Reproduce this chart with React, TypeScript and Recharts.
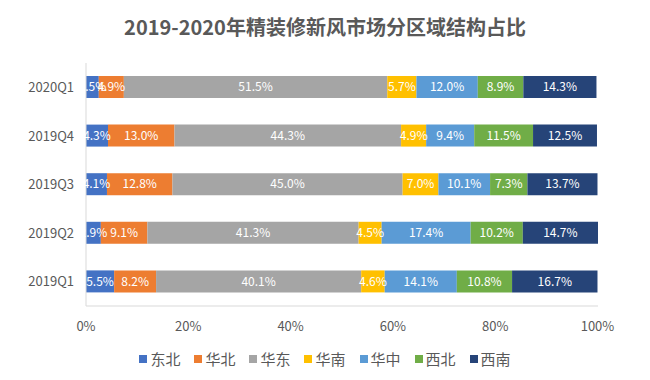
import React from 'react';
import { BarChart, Bar, XAxis, YAxis, Legend, LabelList } from 'recharts';

const quarters = ['2020Q1', '2019Q4', '2019Q3', '2019Q2', '2019Q1'];
const regions = ['东北', '华北', '华东', '华南', '华中', '西北', '西南'];
const colors = ['#4472C4', '#ED7D31', '#A5A5A5', '#FFC000', '#5B9BD5', '#70AD47', '#264478'];
const dongbei = [2.5, 4.3, 4.1, 2.9, 5.5];
const huabei = [4.9, 13.0, 12.8, 9.1, 8.2];
const huadong = [51.5, 44.3, 45.0, 41.3, 40.1];
const huanan = [5.7, 4.9, 7.0, 4.5, 4.6];
const huazhong = [12.0, 9.4, 10.1, 17.4, 14.1];
const xibei = [8.9, 11.5, 7.3, 10.2, 10.8];
const xinan = [14.3, 12.5, 13.7, 14.7, 16.7];
const xTicks = [0, 20, 40, 60, 80, 100];

const seriesValues = [dongbei, huabei, huadong, huanan, huazhong, xibei, xinan];

const data = quarters.map((q, i) => {
  const row: Record<string, string | number> = { q };
  regions.forEach((r, j) => {
    row[r] = seriesValues[j][i];
  });
  return row;
});

const font = '"Noto Sans CJK SC", "Noto Sans", sans-serif';

function LegendContent() {
  return (
    <div
      style={{
        display: 'flex',
        justifyContent: 'center',
        alignItems: 'center',
        height: 20,
        fontSize: 15,
        color: '#595959',
        fontFamily: font,
      }}
    >
      {regions.map((r, j) => (
        <div key={r} style={{ display: 'flex', alignItems: 'center', marginRight: j < regions.length - 1 ? 14 : 0 }}>
          <span style={{ display: 'inline-block', width: 8, height: 8, background: colors[j], marginRight: 3 }} />
          <span style={{ lineHeight: '20px' }}>{r}</span>
        </div>
      ))}
    </div>
  );
}

export default function App() {
  return (
    <div style={{ position: 'absolute', left: 0, top: 0, width: 650, height: 380, background: '#fff', fontFamily: font }}>
      <div
        style={{
          position: 'absolute',
          left: 0,
          top: 14,
          width: 650,
          textAlign: 'center',
          fontSize: 20,
          fontWeight: 'bold',
          color: '#595959',
          lineHeight: '26px',
        }}
      >
        2019-2020年精装修新风市场分区域结构占比
      </div>
      <BarChart
        width={650}
        height={380}
        data={data}
        layout="vertical"
        margin={{ top: 63, right: 52, bottom: 24, left: 0 }}
        barSize={22}
        style={{ fontFamily: font }}
      >
        <XAxis
          type="number"
          domain={[0, 100]}
          ticks={xTicks}
          tickFormatter={(v: number) => `${v}%`}
          axisLine={{ stroke: '#D9D9D9' }}
          tickLine={false}
          tick={{ fill: '#595959', fontSize: 13 }}
          tickMargin={10}
          interval={0}
          height={30}
        />
        <YAxis
          type="category"
          dataKey="q"
          width={86}
          axisLine={{ stroke: '#D9D9D9' }}
          tickLine={false}
          tick={{ fill: '#595959', fontSize: 13 }}
          tickMargin={6}
        />
        <Legend
          verticalAlign="bottom"
          align="center"
          wrapperStyle={{ top: 349, left: 0, width: 650, height: 20 }}
          content={() => <LegendContent />}
        />
        {regions.map((r, j) => (
          <Bar key={r} dataKey={r} stackId="a" fill={colors[j]} isAnimationActive={false}>
            <LabelList
              dataKey={r}
              position="center"
              fill="#FFFFFF"
              fontSize={12}
              formatter={(v: number) => `${Number(v).toFixed(1)}%`}
            />
          </Bar>
        ))}
      </BarChart>
    </div>
  );
}
